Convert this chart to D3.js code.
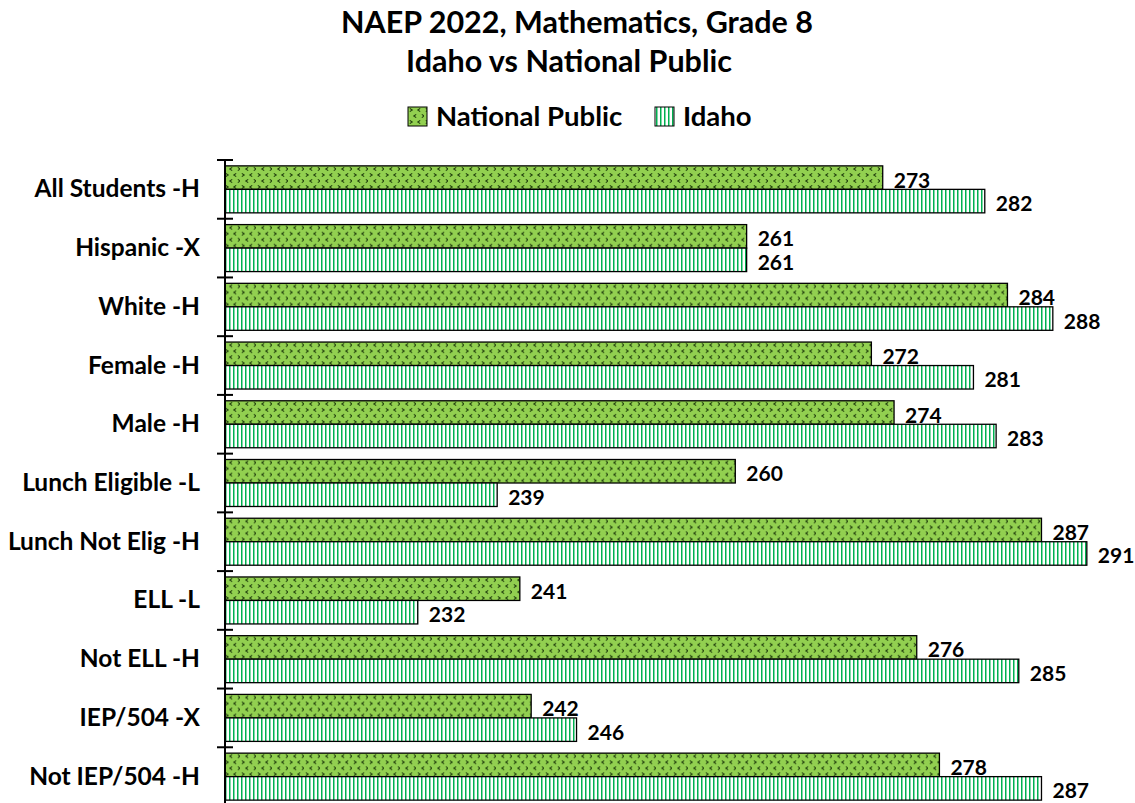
<!DOCTYPE html>
<html>
<head>
<meta charset="utf-8">
<style>
  body { margin: 0; background: #fff; }
  text { font-family: 'Lato', 'Open Sans', sans-serif; font-weight: bold; fill: #000; }
</style>
</head>
<body>
<script src="https://cdn.jsdelivr.net/npm/d3@7"></script>
<script>
// data
var categories = ["All Students -H", "Hispanic -X", "White -H", "Female -H", "Male -H",
  "Lunch Eligible -L", "Lunch Not Elig -H", "ELL -L", "Not ELL -H", "IEP/504 -X", "Not IEP/504 -H"];
var seriesNames = ["National Public", "Idaho"];
var nationalValues = [273, 261, 284, 272, 274, 260, 287, 241, 276, 242, 278];
var idahoValues = [282, 261, 288, 281, 283, 239, 291, 232, 285, 246, 287];

var width = 1135, height = 803;

var svg = d3.select("body").append("svg")
  .attr("width", width)
  .attr("height", height);

var defs = svg.append("defs");

// national public: green with small dark chevron marks
var pNat = defs.append("pattern")
  .attr("id", "pat-nat")
  .attr("patternUnits", "userSpaceOnUse")
  .attr("width", 16).attr("height", 12);
pNat.append("rect").attr("width", 16).attr("height", 12).attr("fill", "#92d050");
var marks = [
  { x: 3, y: 3, d: -1 }, { x: 11, y: 3, d: 1 },
  { x: 7, y: 9, d: 1 }, { x: 15, y: 9, d: -1 }
];
marks.forEach(function (m) {
  pNat.append("path")
    .attr("d", "M" + (m.x + m.d * 1.2) + "," + (m.y - 1.6) + " L" + (m.x - m.d * 1.2) + "," + m.y + " L" + (m.x + m.d * 1.2) + "," + (m.y + 1.6))
    .attr("fill", "none")
    .attr("stroke", "#1f3d0c")
    .attr("stroke-width", 1.1);
});

// idaho: white with vertical green lines
var pId = defs.append("pattern")
  .attr("id", "pat-id")
  .attr("patternUnits", "userSpaceOnUse")
  .attr("width", 4).attr("height", 4);
pId.append("rect").attr("width", 4).attr("height", 4).attr("fill", "#fff");
pId.append("rect").attr("x", 1).attr("width", 1.5).attr("height", 4).attr("fill", "#00b050");

var fills = { "National Public": "url(#pat-nat)", "Idaho": "url(#pat-id)" };

// title
svg.append("text").attr("x", 577).attr("y", 33).attr("text-anchor", "middle")
  .style("font-size", "30.5px").text("NAEP 2022, Mathematics, Grade 8");
svg.append("text").attr("x", 569).attr("y", 72).attr("text-anchor", "middle")
  .style("font-size", "30.5px").text("Idaho vs National Public");

// legend
var legendX = [408, 655];
var legend = svg.selectAll(".legend")
  .data(seriesNames)
  .enter().append("g")
  .attr("class", "legend")
  .attr("transform", function (d, i) { return "translate(" + legendX[i] + ",107)"; });
legend.append("rect")
  .attr("width", 19).attr("height", 19)
  .attr("fill", function (d) { return fills[d]; })
  .attr("stroke", "#000").attr("stroke-width", 1);
legend.append("text")
  .attr("x", 28).attr("y", 19)
  .style("font-size", "27.5px")
  .text(function (d) { return d; });

// scales
var x = d3.scaleLinear().domain([215, 300]).range([225, 225 + 85 * 11.34]);

var y = d3.scaleBand().domain(categories).range([160, 806]).padding(0);

var ySub = d3.scaleBand().domain(seriesNames)
  .range([0, y.bandwidth()])
  .paddingInner(0).paddingOuter(0.25);

var rows = categories.map(function (c, i) {
  return { category: c, values: [
    { key: "National Public", value: nationalValues[i] },
    { key: "Idaho", value: idahoValues[i] }
  ] };
});

var groups = svg.selectAll("g.row")
  .data(rows)
  .enter().append("g")
  .attr("class", "row")
  .attr("transform", function (d) { return "translate(0," + y(d.category) + ")"; });

groups.selectAll("rect")
  .data(function (d) { return d.values; })
  .enter().append("rect")
  .attr("x", x(215))
  .attr("y", function (d) { return ySub(d.key); })
  .attr("width", function (d) { return x(d.value) - x(215); })
  .attr("height", ySub.bandwidth())
  .attr("fill", function (d) { return fills[d.key]; })
  .attr("stroke", "#000")
  .attr("stroke-width", 1.3);

groups.selectAll("text.val")
  .data(function (d) { return d.values; })
  .enter().append("text")
  .attr("class", "val")
  .attr("x", function (d) { return x(d.value) + 11; })
  .attr("y", function (d) { return ySub(d.key) + ySub.bandwidth() / 2 + 10; })
  .style("font-size", "21px")
  .text(function (d) { return d.value; });

// category axis with crossing ticks at band edges
var axis = svg.append("g");
axis.append("line")
  .attr("x1", x(215)).attr("x2", x(215))
  .attr("y1", y.range()[0]).attr("y2", y.range()[1])
  .attr("stroke", "#000").attr("stroke-width", 2);
axis.selectAll("line.tick")
  .data(categories)
  .enter().append("line")
  .attr("class", "tick")
  .attr("x1", x(215) - 8).attr("x2", x(215) + 8)
  .attr("y1", function (d) { return y(d); })
  .attr("y2", function (d) { return y(d); })
  .attr("stroke", "#000").attr("stroke-width", 2);
axis.selectAll("text.cat")
  .data(categories)
  .enter().append("text")
  .attr("class", "cat")
  .attr("x", 200)
  .attr("y", function (d) { return y(d) + y.bandwidth() / 2 + 8; })
  .attr("text-anchor", "end")
  .style("font-size", "24.5px")
  .text(function (d) { return d; });
</script>
</body>
</html>
